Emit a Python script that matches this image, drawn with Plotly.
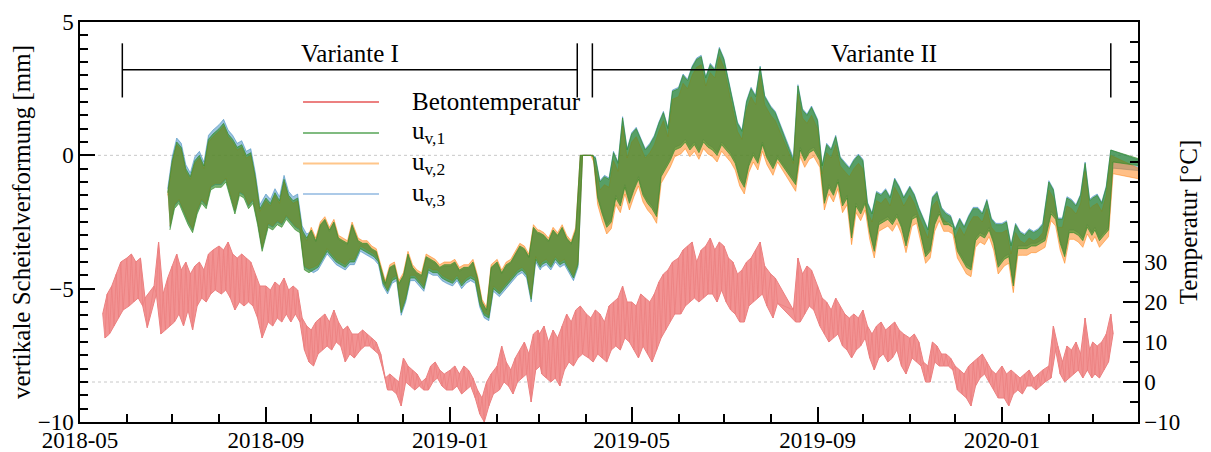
import pandas as pd
import plotly.graph_objects as go

N = None

# Monatsraster: pro Monat 10 Stützstellen (Tagesmax / Tagesmin)
months = ["2018-05", "2018-06", "2018-07", "2018-08", "2018-09", "2018-10", "2018-11", "2018-12",
          "2019-01", "2019-02", "2019-03", "2019-04", "2019-05", "2019-06", "2019-07", "2019-08",
          "2019-09", "2019-10", "2019-11", "2019-12", "2020-01", "2020-02", "2020-03", "2020-04"]
days = [1, 4, 7, 10, 13, 16, 19, 22, 25, 28]

# Betontemperatur [°C]
temp_hi = [
    N, N, N, N, N, 17, 22, 24, 27, 30,
    31, 32, 30, 31, 21, N, 24, 35, 22, 26,
    29, 32, 28, 30, 27, 29, 30, 28, 32, 33,
    34, 33, 35, 32, 31, 32, 31, 30, 27, 24,
    24, 23, 25, 24, 26, 23, 24, 23, 16, 14,
    13, 15, 16, 17, 15, 18, 15, 13, 14, 12,
    12, 13, 12, 11, 10, 7, 1, 2, 1, 0,
    6, 4, 3, 2, 0, 1, 4, 5, 3, 2,
    3, 4, 2, 4, 3, 1, -2, -4, 0, 2,
    4, 9, 5, 3, 6, 8, 10, 7, 12, 13,
    12, 14, 10, 13, 11, 14, 17, 15, 18, 19,
    17, 16, 18, 17, 15, 19, 20, 21, 24, 20,
    20, 19, 22, 21, 20, 22, 25, 27, 28, 30,
    31, 33, 34, 35, 30, 33, 34, 36, 33, 35,
    34, 31, 30, 27, 28, 30, 31, 33, 35, 29,
    27, 26, N, N, N, 18, 31, 27, 29, 28,
    24, 21, 20, 18, 21, 19, 17, 16, 17, 16,
    18, 14, 12, 14, 15, 13, 14, 15, 13, 12,
    11, 12, 10, 5, 4, 10, 9, 7, 7, 6,
    4, 3, 2, 4, 5, 6, 7, 5, 3, 2,
    4, 2, 3, 2, 1, 2, 3, 1, 2, 3,
    4, 14, 9, 5, 9, 8, 10, 7, 16, 8,
    10, 9, 10, 12, 17, N, N, N, N, N,
    N, N, N, N, N, N, N, N, N, N,
]
temp_lo = [
    N, N, N, N, N, 11, 12, 14, 16, 18,
    19, 20, 21, 19, 13.6, N, 22, 12, 13, 14,
    15, 17, 14, 18, 13, 19, 21, 20, 22, 23,
    22, 23, 21, 18, 20, 19, 20, 19, 16, 11,
    15, 14, 16, 15, 17, 15, 17, 15, 8, 5,
    4, 7, 8, 9, 8, 10, 9, 5, 7, 6,
    8, 9, 9, 8, 7, 3, -2, -2, -3, -6,
    0, -1, -2, -1, -2, -2, 0, 1, -1, -2,
    -2, -1, -3, -2, -1, -4, -8, -10, -6, -3,
    -2, 0, -1, -3, 0, 1, 2, -5, 3, 4,
    2, 1, 0, 1, -1, 3, 5, 4, 6, 7,
    6, 5, 7, 6, 5, 8, 9, 8, 11, 10,
    8, 6, 9, 7, 5, 8, 11, 13, 15, 17,
    17, 19, 20, 21, 20, 21, 22, 22, 20, 23,
    20, 18, 17, 15, 15, 19, 20, 21, 22, 19,
    16, 19.7, N, N, N, 15, 15, 17, 19, 18,
    14, 12, 10, 11, 12, 9, 8, 6, 8, 9,
    11, 6, 3, 6, 7, 5, 6, 8, 4, 2,
    6, 5, 4, 0, 0, 5, 4, 4, 4, 3,
    -2, -3, -4, -6, -1, 1, 2, 0, -2, -4,
    -4, -6, -3, -2, -3, -1, -1, -2, -1, 0,
    1, 8, 2, 0, 1, 2, 3, 1, 3, 1,
    2, 1, 3, 5, 12, N, N, N, N, N,
    N, N, N, N, N, N, N, N, N, N,
]

# u_v,1 [mm]
u1_hi = [
    N, N, N, N, N, N, N, N, N, N,
    N, N, N, N, N, N, N, N, N, -1.4,
    -0.2, 0.5, 0.3, -0.5, -0.8, -0.2, 0.0, -0.4, 0.6, 0.8,
    1.0, 1.2, 0.8, 0.6, 0.3, 0.4, 0.0, 0.1, -0.8, -2.0,
    -1.6, -1.8, -1.4, -1.7, -0.9, -1.5, -1.7, -1.6, -2.8, -3.1,
    -2.8, -3.2, -2.6, -2.4, -2.8, -2.5, -3.1, -3.2, -3.3, -2.6,
    -3.2, -3.3, -3.3, -3.5, -3.6, -4.2, -4.8, -4.2, -4.1, -4.8,
    -4.5, -3.7, -4.2, -4.4, -4.5, -3.8, -3.9, -4.0, -4.2, -4.1,
    -4.1, -4.0, -4.3, -4.2, -4.2, -4.0, -4.6, -5.5, -5.8, -4.2,
    -4.0, -4.4, -4.1, -4.0, -3.7, -3.4, -3.5, -3.8, -2.7, -2.9,
    -2.9, -3.0, -3.2, -2.8, -3.0, -2.7, -3.1, -3.3, -2.8, 0,
    0, 0, -0.1, -1.0, -0.8, -0.9, 0.1, -0.3, 1.4, 0.2,
    0.8, 1.0, 0.6, 0.2, 0.4, 0.7, 1.2, 1.6, 1.0, 2.4,
    2.5, 3.0, 2.8, 3.3, 3.6, 3.7, 2.9, 3.4, 3.2, 4.0,
    3.6, 2.8, 2.0, 1.2, 0.9, 2.0, 2.5, 2.2, 3.3, 2.2,
    1.8, 1.6, N, N, N, -0.19, 2.6, 1.7, 1.5, 1.8,
    1.3, -0.4, 0.4, 0.2, 0.7, -0.1, -0.3, -0.5, -0.2, 0.0,
    -0.2, -1.8, -2.2, -1.4, -1.5, -1.3, -1.6, -0.9, -1.2, -1.6,
    -1.2, -1.5, -2.0, -2.4, -2.8, -1.6, -1.4, -2.0, -2.2, -2.3,
    -2.8, -2.4, -2.7, -2.3, -2.0, -2.0, -2.2, -1.7, -2.4, -2.6,
    -2.6, -2.5, -3.4, -2.6, -2.9, -3.0, -2.8, -2.9, -2.8, -2.6,
    -1.0, -1.3, -2.4, -2.4, -1.6, -1.7, -1.9, -1.5, -0.3, -1.7,
    -1.6, -1.5, -1.8, -1.2, 0.2, N, N, N, N, N,
    N, N, N, N, N, N, N, N, N, -0.62,
]
u1_lo = [
    N, N, N, N, N, N, N, N, N, N,
    N, N, N, N, N, N, N, N, N, -2.8,
    -2.0, -1.8, -2.2, -2.6, -2.9, -2.2, -1.8, -2.0, -1.3, -1.2,
    -1.2, -1.0, -1.6, -2.2, -1.5, -1.6, -2.0, -1.8, -2.6, -3.6,
    -2.7, -2.8, -2.6, -2.7, -2.4, -2.6, -2.8, -2.9, -4.3, -4.4,
    -4.3, -4.2, -3.9, -3.6, -3.8, -4.0, -4.1, -4.2, -4.0, -4.0,
    -3.5, -3.6, -3.7, -3.8, -4.0, -4.8, -5.1, -4.7, -4.6, -5.9,
    -5.4, -4.6, -4.6, -4.8, -5.0, -4.3, -4.4, -4.4, -4.6, -4.7,
    -4.8, -4.6, -4.9, -4.7, -4.6, -4.7, -5.6, -6.0, -6.1, -5.0,
    -5.2, -5.0, -4.8, -4.6, -4.4, -4.3, -4.5, -5.4, -3.9, -4.2,
    -4.1, -4.0, -4.2, -3.9, -4.1, -4.0, -4.3, -4.6, -4.1, 0,
    0, 0, -1.6, -2.2, -2.7, -2.5, -1.6, -1.9, -1.2, -1.8,
    -1.3, -0.9, -1.5, -1.8, -2.0, -2.3, -0.8, -0.5, -0.2, 0.2,
    0.3, 0.5, 0.2, 0.4, 0.1, 0.5, 0.3, 0.2, 0.0, 0.4,
    0.2, 0.0, -0.3, -0.9, -1.2, -0.4, 0.0, -0.3, 0.4, -0.1,
    -0.5, -0.12, N, N, N, -1.1, 0.2, -0.2, 0.1, 0.2,
    -0.2, -1.8, -1.2, -1.5, -1.0, -1.9, -1.6, -3.1, -1.9, -2.2,
    -1.8, -2.9, -3.6, -2.6, -2.5, -2.4, -2.6, -2.3, -2.7, -3.4,
    -2.4, -2.3, -3.0, -3.8, -3.6, -2.6, -2.2, -2.6, -2.6, -2.7,
    -3.6, -3.9, -4.2, -4.3, -3.2, -3.0, -3.1, -2.8, -3.3, -4.2,
    -3.9, -3.8, -4.9, -3.5, -3.5, -3.5, -3.4, -3.4, -3.3, -3.2,
    -2.2, -2.4, -3.3, -3.8, -2.9, -2.9, -3.0, -3.2, -2.7, -3.0,
    -2.8, -3.2, -3.0, -2.8, -0.25, N, N, N, N, N,
    N, N, N, N, N, N, N, N, N, -0.62,
]

# u_v,2 [mm]
u2_hi = [
    N, N, N, N, N, N, N, N, N, N,
    N, N, N, N, N, N, N, N, N, -1.5,
    -0.3, 0.4, 0.2, -0.6, -0.9, -0.3, -0.1, -0.5, 0.5, 0.7,
    0.9, 1.1, 0.7, 0.5, 0.2, 0.3, -0.1, 0.0, -0.9, -2.1,
    -1.7, -1.9, -1.5, -1.8, -1.0, -1.6, -1.8, -1.7, -2.9, -3.2,
    -2.7, -3.1, -2.5, -2.3, -2.7, -2.4, -3.0, -3.1, -3.2, -2.5,
    -3.1, -3.2, -3.2, -3.4, -3.5, -4.1, -4.7, -4.1, -4.0, -4.7,
    -4.4, -3.6, -4.1, -4.3, -4.4, -3.7, -3.8, -3.9, -4.1, -4.0,
    -4.0, -3.9, -4.2, -4.1, -4.1, -3.9, -4.5, -5.4, -5.7, -4.1,
    -3.9, -4.3, -4.0, -3.9, -3.6, -3.3, -3.4, -3.7, -2.6, -2.8,
    -2.8, -2.9, -3.1, -2.7, -2.9, -2.6, -3.0, -3.2, -2.7, 0,
    0, 0, -0.4, -1.3, -1.1, -1.2, -0.2, -0.6, 1.1, -0.1,
    0.5, 0.7, 0.3, -0.1, 0.1, 0.4, 0.9, 1.3, 0.7, 2.1,
    2.2, 2.7, 2.5, 3.0, 3.3, 3.4, 2.6, 3.1, 2.9, 3.7,
    3.3, 2.5, 1.7, 0.9, 0.6, 1.7, 2.2, 1.9, 3.0, 1.9,
    1.5, 1.3, N, N, N, -0.31, 2.3, 1.4, 1.2, 1.5,
    1.0, -0.7, 0.1, -0.1, 0.4, -0.4, -0.6, -0.8, -0.5, -0.3,
    -0.5, -2.1, -2.5, -1.7, -1.8, -1.6, -1.9, -1.2, -1.5, -1.9,
    -1.5, -1.8, -2.3, -2.7, -3.1, -1.9, -1.7, -2.3, -2.5, -2.6,
    -3.1, -2.7, -3.0, -2.6, -2.3, -2.3, -2.5, -2.0, -2.7, -2.9,
    -2.9, -2.8, -3.7, -2.9, -3.2, -3.3, -3.1, -3.2, -3.1, -2.9,
    -1.3, -1.6, -2.7, -2.7, -1.9, -2.0, -2.2, -1.8, -0.6, -2.0,
    -1.9, -1.8, -2.1, -1.5, 0.0, N, N, N, N, N,
    N, N, N, N, N, N, N, N, N, -1.21,
]
u2_lo = [
    N, N, N, N, N, N, N, N, N, N,
    N, N, N, N, N, N, N, N, N, -2.65,
    -1.85, -1.65, -2.05, -2.45, -2.75, -2.05, -1.65, -1.85, -1.15, -1.05,
    -1.05, -0.85, -1.45, -2.05, -1.35, -1.45, -1.85, -1.65, -2.45, -3.45,
    -2.55, -2.65, -2.45, -2.55, -2.25, -2.45, -2.65, -2.75, -4.15, -4.25,
    -4.2, -4.1, -3.8, -3.5, -3.7, -3.9, -4.0, -4.1, -3.9, -3.9,
    -3.4, -3.5, -3.6, -3.7, -3.9, -4.7, -5.0, -4.6, -4.5, -5.8,
    -5.3, -4.5, -4.5, -4.7, -4.9, -4.2, -4.3, -4.3, -4.5, -4.6,
    -4.7, -4.5, -4.8, -4.6, -4.5, -4.6, -5.5, -5.9, -6.0, -4.9,
    -5.1, -4.9, -4.7, -4.5, -4.3, -4.2, -4.4, -5.3, -3.8, -4.1,
    -4.0, -3.9, -4.1, -3.8, -4.0, -3.9, -4.2, -4.5, -4.0, 0,
    0, 0, -1.85, -2.45, -2.95, -2.75, -1.85, -2.15, -1.45, -2.05,
    -1.55, -1.15, -1.75, -2.05, -2.25, -2.55, -1.05, -0.75, -0.45, -0.05,
    0.05, 0.25, -0.05, 0.15, -0.15, 0.25, 0.05, -0.05, -0.25, 0.15,
    -0.05, -0.25, -0.55, -1.15, -1.45, -0.65, -0.25, -0.55, 0.15, -0.35,
    -0.75, -0.25, N, N, N, -1.35, -0.05, -0.45, -0.15, -0.05,
    -0.45, -2.05, -1.45, -1.75, -1.25, -2.15, -1.85, -3.35, -2.15, -2.45,
    -2.05, -3.15, -3.85, -2.85, -2.75, -2.65, -2.85, -2.55, -2.95, -3.65,
    -2.65, -2.55, -3.25, -4.05, -3.85, -2.85, -2.45, -2.85, -2.85, -2.95,
    -3.85, -4.15, -4.45, -4.55, -3.45, -3.25, -3.35, -3.05, -3.55, -4.45,
    -4.15, -4.05, -5.15, -3.75, -3.75, -3.75, -3.65, -3.65, -3.55, -3.45,
    -2.45, -2.65, -3.55, -4.05, -3.15, -3.15, -3.25, -3.45, -2.95, -3.25,
    -3.05, -3.45, -3.25, -3.05, -0.69, N, N, N, N, N,
    N, N, N, N, N, N, N, N, N, -1.21,
]

# u_v,3 [mm]
u3_hi = [
    N, N, N, N, N, N, N, N, N, N,
    N, N, N, N, N, N, N, N, N, -1.25,
    -0.05, 0.65, 0.45, -0.35, -0.65, -0.05, 0.15, -0.25, 0.75, 0.95,
    1.15, 1.35, 0.95, 0.75, 0.45, 0.55, 0.15, 0.25, -0.65, -1.85,
    -1.45, -1.65, -1.25, -1.55, -0.75, -1.35, -1.55, -1.45, -2.65, -2.95,
    -2.85, -3.25, -2.65, -2.45, -2.85, -2.55, -3.15, -3.25, -3.35, -2.65,
    -3.25, -3.35, -3.35, -3.55, -3.65, -4.25, -4.85, -4.25, -4.15, -4.85,
    -4.55, -3.75, -4.25, -4.45, -4.55, -3.85, -3.95, -4.05, -4.25, -4.15,
    -4.15, -4.05, -4.35, -4.25, -4.25, -4.05, -4.65, -5.55, -5.85, -4.25,
    -4.05, -4.45, -4.15, -4.05, -3.75, -3.45, -3.55, -3.85, -2.75, -2.95,
    -2.95, -3.05, -3.25, -2.85, -3.05, -2.75, -3.15, -3.35, -2.85, 0,
    0, 0, -0.05, -0.95, -0.75, -0.85, 0.15, -0.25, 1.45, 0.25,
    0.85, 1.05, 0.65, 0.25, 0.45, 0.75, 1.25, 1.65, 1.05, 2.45,
    2.55, 3.05, 2.85, 3.35, 3.65, 3.75, 2.95, 3.45, 3.25, 4.05,
    3.65, 2.85, 2.05, 1.25, 0.95, 2.05, 2.55, 2.25, 3.35, 2.25,
    1.85, 1.65, N, N, N, -0.09, 2.65, 1.75, 1.55, 1.85,
    1.35, -0.35, 0.45, 0.25, 0.75, -0.05, -0.25, -0.45, -0.15, 0.05,
    -0.15, -1.75, -2.15, -1.35, -1.45, -1.25, -1.55, -0.85, -1.15, -1.55,
    -1.15, -1.45, -1.95, -2.35, -2.75, -1.55, -1.35, -1.95, -2.15, -2.25,
    -2.75, -2.35, -2.65, -2.25, -1.95, -1.95, -2.15, -1.65, -2.35, -2.55,
    -2.55, -2.45, -3.35, -2.55, -2.85, -2.95, -2.75, -2.85, -2.75, -2.55,
    -0.95, -1.25, -2.35, -2.35, -1.55, -1.65, -1.85, -1.45, -0.25, -1.65,
    -1.55, -1.45, -1.75, -1.15, 0.2, N, N, N, N, N,
    N, N, N, N, N, N, N, N, N, -0.74,
]
u3_lo = [
    N, N, N, N, N, N, N, N, N, N,
    N, N, N, N, N, N, N, N, N, -2.7,
    -1.9, -1.7, -2.1, -2.5, -2.8, -2.1, -1.7, -1.9, -1.2, -1.1,
    -1.1, -0.9, -1.5, -2.1, -1.4, -1.5, -1.9, -1.7, -2.5, -3.5,
    -2.6, -2.7, -2.5, -2.6, -2.3, -2.5, -2.7, -2.8, -4.2, -4.3,
    -4.4, -4.3, -4.0, -3.7, -3.9, -4.1, -4.2, -4.3, -4.1, -4.1,
    -3.6, -3.7, -3.8, -3.9, -4.1, -4.9, -5.2, -4.8, -4.7, -6.0,
    -5.5, -4.7, -4.7, -4.9, -5.1, -4.4, -4.5, -4.5, -4.7, -4.8,
    -4.9, -4.7, -5.0, -4.8, -4.7, -4.8, -5.7, -6.1, -6.2, -5.1,
    -5.3, -5.1, -4.9, -4.7, -4.5, -4.4, -4.6, -5.5, -4.0, -4.3,
    -4.2, -4.1, -4.3, -4.0, -4.2, -4.1, -4.4, -4.7, -4.2, 0,
    0, 0, -1.5, -2.1, -2.6, -2.4, -1.5, -1.8, -1.1, -1.7,
    -1.2, -0.8, -1.4, -1.7, -1.9, -2.2, -0.7, -0.4, -0.1, 0.3,
    0.4, 0.6, 0.3, 0.5, 0.2, 0.6, 0.4, 0.3, 0.1, 0.5,
    0.3, 0.1, -0.2, -0.8, -1.1, -0.3, 0.1, -0.2, 0.5, 0.0,
    -0.4, -0.04, N, N, N, -1.0, 0.3, -0.1, 0.2, 0.3,
    -0.1, -1.7, -1.1, -1.4, -0.9, -1.8, -1.5, -3.0, -1.8, -2.1,
    -1.7, -2.8, -3.5, -2.5, -2.4, -2.3, -2.5, -2.2, -2.6, -3.3,
    -2.3, -2.2, -2.9, -3.7, -3.5, -2.5, -2.1, -2.5, -2.5, -2.6,
    -3.5, -3.8, -4.1, -4.2, -3.1, -2.9, -3.0, -2.7, -3.2, -4.1,
    -3.8, -3.7, -4.8, -3.4, -3.4, -3.4, -3.3, -3.3, -3.2, -3.1,
    -2.1, -2.3, -3.2, -3.7, -2.8, -2.8, -2.9, -3.1, -2.6, -2.9,
    -2.7, -3.1, -2.9, -2.7, -0.48, N, N, N, N, N,
    N, N, N, N, N, N, N, N, N, -0.74,
]

# Versuchsphasen
variant_names = ["Variante I", "Variante II"]
variant_start = ["2018-05-29", "2019-04-05"]
variant_end = ["2019-03-26", "2020-03-13"]

FONT = "Liberation Serif, Times New Roman, serif"


def points(hi, lo):
    # Tagesmaximum am Stichtag, Tagesminimum 1,5 Tage später
    th, yh, tl, yl = [], [], [], []
    k = 0
    for m in months:
        for d in days:
            h, l = hi[k], lo[k]
            k += 1
            if h is None:
                continue
            t = pd.Timestamp(f"{m}-{d:02d}")
            th.append(t)
            yh.append(h)
            tl.append(t + pd.Timedelta(hours=36))
            yl.append(l)
    return th, yh, tl, yl


RED_FILL = "#f29393"
RED_LINE = "#ec8080"
GREEN = "rgba(50,140,40,0.65)"
# (Name, hi, lo, Flächenfarbe, Linienfarbe, Achse, Tagesgang zeichnen)
series = [
    ("Betontemperatur", temp_hi, temp_lo, RED_FILL, RED_LINE, "y2", True),
    ("u<sub>v,3</sub>", u3_hi, u3_lo, "rgba(31,119,180,0.45)", "rgba(31,119,180,0.45)", "y", False),
    ("u<sub>v,2</sub>", u2_hi, u2_lo, "rgba(255,127,14,0.5)", "rgba(255,127,14,0.5)", "y", False),
    ("u<sub>v,1</sub>", u1_hi, u1_lo, GREEN, GREEN, "y", False),
]

fig = go.Figure()
for name, hi, lo, fcol, lcol, ax, zig in series:
    th, yh, tl, yl = points(hi, lo)
    # Band zwischen Tagesmaxima und Tagesminima
    fig.add_trace(go.Scatter(x=th + tl[::-1], y=yh + yl[::-1], mode="lines", name=name,
                             yaxis=ax, fill="toself", fillcolor=fcol,
                             line=dict(color=lcol, width=1), showlegend=False,
                             hoverinfo="skip"))
    if zig:
        # Tagesgang (Zickzack)
        zx, zy = [], []
        for a, b, c, d in zip(th, yh, tl, yl):
            zx += [a, c]
            zy += [b, d]
        fig.add_trace(go.Scatter(x=zx, y=zy, mode="lines", yaxis=ax, showlegend=False,
                                 line=dict(color=lcol, width=0.8), hoverinfo="skip"))

# gepunktete Nulllinien (beide Achsen)
for yr in ["y", "y2"]:
    fig.add_shape(type="line", xref="paper", x0=0, x1=1, yref=yr, y0=0, y1=0,
                  line=dict(color="#c8c8c8", width=1, dash="dot"), layer="below")

# Variante I / II Klammern
bar_y, cap_lo, cap_hi = 3.21, 2.17, 4.2
label_shift = [0, 32]
for name, s, e, sh in zip(variant_names, variant_start, variant_end, label_shift):
    line = dict(color="black", width=1.5)
    fig.add_shape(type="line", xref="x", yref="y", x0=s, x1=e, y0=bar_y, y1=bar_y, line=line)
    for xx in (s, e):
        fig.add_shape(type="line", xref="x", yref="y", x0=xx, x1=xx, y0=cap_lo, y1=cap_hi, line=line)
    mid = pd.Timestamp(s) + (pd.Timestamp(e) - pd.Timestamp(s)) / 2
    fig.add_annotation(x=mid, y=bar_y, xref="x", yref="y", text=name, showarrow=False,
                       yanchor="bottom", xshift=sh, yshift=1,
                       font=dict(family=FONT, size=25, color="black"))

# Legende von Hand
leg_names = ["Betontemperatur", "u<sub>v,1</sub>", "u<sub>v,2</sub>", "u<sub>v,3</sub>"]
leg_cols = [RED_LINE, "rgba(60,150,60,0.65)", "rgba(255,160,60,0.6)", "rgba(90,150,210,0.5)"]
leg_y = [0.80, 0.7225, 0.646, 0.57]
for name, col, yy in zip(leg_names, leg_cols, leg_y):
    fig.add_shape(type="line", xref="paper", yref="paper", x0=0.2108, x1=0.2826, y0=yy, y1=yy,
                  line=dict(color=col, width=2))
    fig.add_annotation(x=0.3119, y=yy, xref="paper", yref="paper", text=name, showarrow=False,
                       xanchor="left", yanchor="middle",
                       font=dict(family=FONT, size=25, color="black"))

axis_common = dict(showline=True, linecolor="black", linewidth=1.5, ticks="inside",
                   tickcolor="black", tickwidth=1.5, ticklen=15, showgrid=False, zeroline=False,
                   automargin=False,
                   tickfont=dict(family=FONT, size=23, color="black"))

# die Seite setzt den Plot 8 px nach rechts/unten -> Größe und Ränder entsprechend
fig.update_layout(
    width=1203, height=444,
    margin=dict(l=72, r=73, t=14, b=30),
    paper_bgcolor="white", plot_bgcolor="white",
    font=dict(family=FONT, color="black"),
    xaxis=dict(type="date", range=["2018-05-01", "2020-03-31"], tick0="2018-05-01",
               dtick="M4", tickformat="%Y-%m", mirror=True, ticklabelstandoff=-3,
               minor=dict(dtick="M1", ticks="inside", ticklen=8, tickcolor="black", tickwidth=1.5),
               **axis_common),
    yaxis=dict(range=[-10, 5], tickmode="array", tickvals=[-10, -5, 0, 5],
               minor=dict(tickmode="linear", tick0=0, dtick=0.5, ticks="inside", ticklen=8,
                          tickcolor="black", tickwidth=1.5),
               title=dict(text="vertikale Scheitelverformung [mm]", standoff=0,
                          font=dict(family=FONT, size=25, color="black")),
               **axis_common),
    yaxis2=dict(overlaying="y", side="right", range=[-10, 90], tickmode="array",
                tickvals=[-10, 0, 10, 20, 30],
                minor=dict(tickmode="linear", tick0=-10, dtick=5, ticks="inside", ticklen=8,
                           tickcolor="black", tickwidth=1.5),
                title=dict(text="Temperatur [°C]", standoff=0,
                           font=dict(family=FONT, size=25, color="black")),
                **axis_common),
)

fig.write_html("out.html")
